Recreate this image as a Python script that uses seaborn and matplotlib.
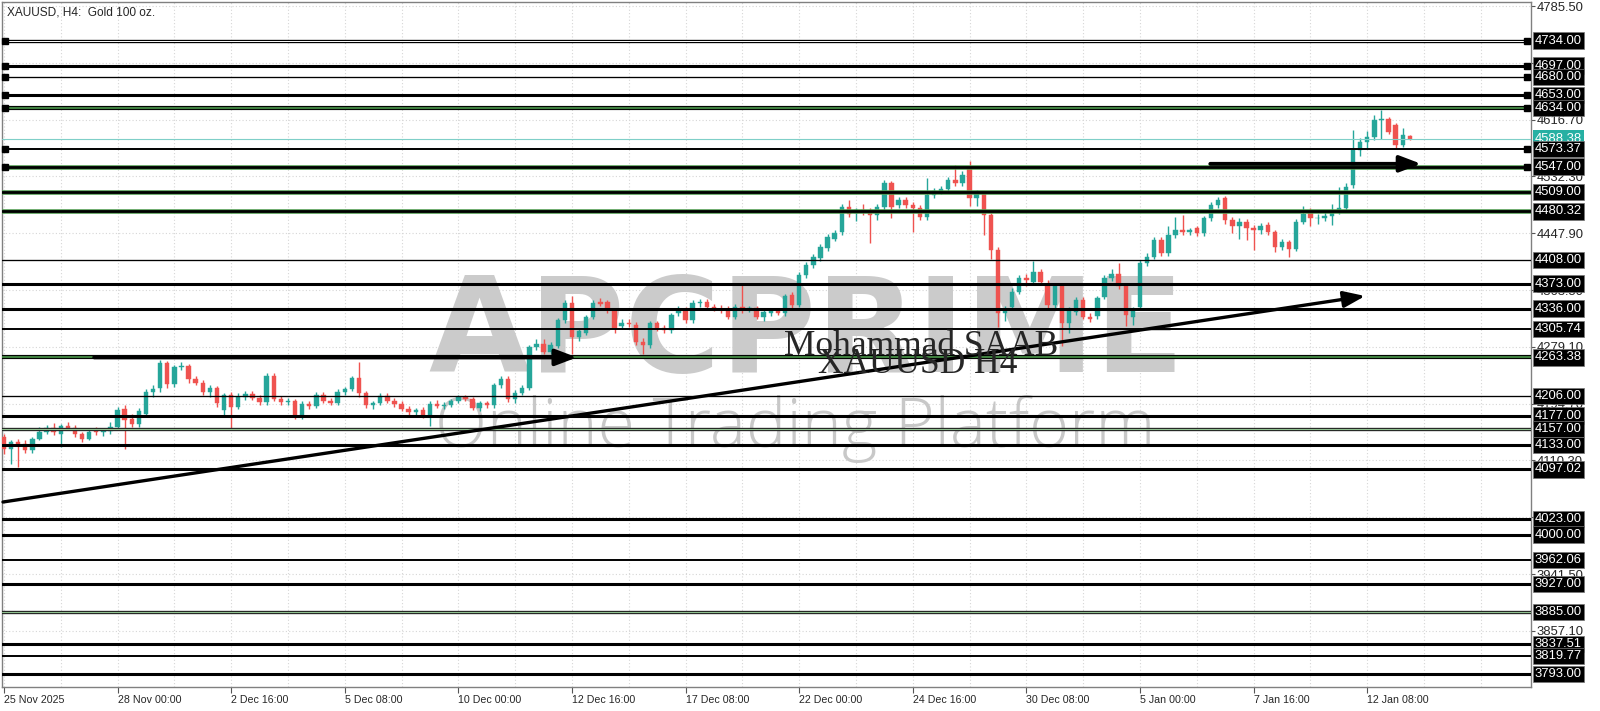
import numpy as np
import pandas as pd
import matplotlib
matplotlib.use("Agg")
import matplotlib.pyplot as plt
from matplotlib.ticker import MultipleLocator
import seaborn as sns

# XAUUSD H4 candles (25 Nov 2025 08:00 ... 12 Jan 2026)
opens = [4145, 4127, 4137, 4135, 4126, 4142, 4153, 4158, 4150, 4162, 4158, 4150, 4142, 4154, 4152, 4154,
         4160, 4186, 4172, 4164, 4180, 4212, 4218, 4255, 4224, 4249, 4250, 4231, 4226, 4212, 4218, 4185,
         4207, 4190, 4205, 4209, 4203, 4197, 4236, 4202, 4197, 4199, 4176, 4194, 4191, 4208, 4199, 4195,
         4212, 4216, 4233, 4210, 4192, 4196, 4206, 4199, 4194, 4187, 4182, 4185, 4178, 4194, 4191, 4193,
         4199, 4204, 4201, 4188, 4195, 4192, 4222, 4232, 4201, 4211, 4218, 4279, 4284, 4272, 4281, 4319,
         4344, 4294, 4300, 4324, 4346, 4345, 4334, 4310, 4314, 4312, 4287, 4282, 4314, 4307, 4304, 4329,
         4333, 4319, 4344, 4346, 4339, 4336, 4336, 4324, 4338, 4335, 4337, 4324, 4329, 4332, 4329, 4356,
         4341, 4386, 4401, 4411, 4426, 4440, 4450, 4487, 4478, 4482, 4480, 4475, 4487, 4522, 4490, 4497,
         4490, 4486, 4472, 4505, 4510, 4514, 4527, 4522, 4547, 4500, 4507, 4475, 4423, 4329, 4338, 4361,
         4381, 4376, 4391, 4373, 4341, 4369, 4314, 4331, 4349, 4324, 4325, 4353, 4381, 4388, 4369, 4324,
         4338, 4403, 4413, 4438, 4418, 4445, 4453, 4450, 4455, 4448, 4470, 4490, 4500, 4468, 4458, 4465,
         4455, 4453, 4460, 4450, 4428, 4435, 4425, 4465, 4480, 4470, 4470, 4473, 4480, 4485, 4520, 4571,
         4584, 4591, 4616, 4617, 4609, 4579, 4592]
highs = [4150, 4140, 4142, 4140, 4145, 4160, 4163, 4166, 4165, 4168, 4163, 4152, 4158, 4160, 4158, 4168,
         4190, 4192, 4180, 4188, 4216, 4222, 4260, 4258, 4252, 4256, 4253, 4236, 4230, 4222, 4221, 4210,
         4212, 4210, 4214, 4213, 4207, 4240, 4240, 4206, 4203, 4202, 4198, 4198, 4212, 4212, 4203, 4216,
         4220, 4236, 4257, 4214, 4199, 4210, 4210, 4203, 4198, 4191, 4188, 4190, 4198, 4200, 4197, 4202,
         4208, 4208, 4205, 4198, 4199, 4226, 4236, 4236, 4215, 4222, 4282, 4290, 4290, 4286, 4322, 4348,
         4354, 4306, 4327, 4348, 4352, 4349, 4337, 4320, 4320, 4316, 4292, 4318, 4318, 4312, 4330, 4340,
         4338, 4348, 4350, 4350, 4343, 4341, 4340, 4342, 4373, 4340, 4340, 4335, 4336, 4336, 4358, 4360,
         4390, 4405, 4417, 4432, 4447, 4452, 4492, 4497, 4486, 4492, 4485, 4492, 4527, 4526, 4502, 4501,
         4494, 4490, 4530, 4515, 4518, 4532, 4549, 4540, 4555, 4512, 4510, 4478, 4428, 4340, 4366, 4386,
         4388, 4406, 4395, 4378, 4373, 4373, 4338, 4353, 4353, 4330, 4355, 4386, 4395, 4403, 4373, 4338,
         4408, 4418, 4442, 4442, 4458, 4472, 4475, 4456, 4459, 4474, 4494, 4501, 4503, 4472, 4470, 4469,
         4460, 4463, 4464, 4453, 4440, 4438, 4469, 4488, 4485, 4476, 4480, 4492, 4517, 4522, 4601, 4590,
         4600, 4623, 4631, 4620, 4612, 4604, 4594]
lows = [4120, 4105, 4101, 4122, 4122, 4140, 4150, 4148, 4130, 4155, 4145, 4138, 4140, 4148, 4147, 4150,
        4155, 4127, 4160, 4160, 4176, 4205, 4212, 4218, 4220, 4244, 4225, 4222, 4207, 4205, 4190, 4178,
        4155, 4186, 4200, 4200, 4193, 4193, 4198, 4193, 4192, 4172, 4172, 4186, 4188, 4196, 4192, 4192,
        4208, 4213, 4205, 4188, 4186, 4192, 4196, 4190, 4183, 4178, 4178, 4174, 4162, 4188, 4186, 4190,
        4196, 4198, 4185, 4184, 4188, 4188, 4218, 4197, 4196, 4208, 4215, 4275, 4268, 4268, 4278, 4315,
        4268, 4288, 4296, 4320, 4340, 4330, 4300, 4305, 4309, 4282, 4268, 4278, 4303, 4300, 4300, 4325,
        4315, 4315, 4338, 4335, 4332, 4330, 4320, 4320, 4330, 4331, 4320, 4318, 4325, 4326, 4325, 4337,
        4338, 4382, 4396, 4407, 4422, 4436, 4446, 4472, 4466, 4475, 4433, 4468, 4483, 4470, 4485, 4486,
        4450, 4468, 4468, 4500, 4506, 4510, 4518, 4518, 4488, 4488, 4445, 4410, 4309, 4318, 4335, 4357,
        4370, 4372, 4372, 4336, 4337, 4280, 4300, 4327, 4320, 4316, 4321, 4350, 4377, 4365, 4310, 4312,
        4335, 4399, 4409, 4414, 4414, 4441, 4445, 4446, 4444, 4444, 4466, 4486, 4462, 4448, 4440, 4438,
        4423, 4447, 4446, 4420, 4423, 4413, 4421, 4461, 4458, 4462, 4466, 4460, 4477, 4481, 4515, 4562,
        4575, 4587, 4588, 4595, 4575, 4576, 4587]
closes = [4127, 4137, 4135, 4126, 4142, 4153, 4158, 4152, 4161, 4158, 4149, 4142, 4153, 4152, 4154, 4160,
          4185, 4170, 4164, 4183, 4212, 4217, 4255, 4224, 4249, 4250, 4231, 4226, 4212, 4218, 4195, 4207,
          4190, 4205, 4209, 4203, 4197, 4236, 4202, 4197, 4199, 4176, 4194, 4191, 4208, 4199, 4195, 4212,
          4216, 4233, 4210, 4192, 4196, 4206, 4199, 4194, 4187, 4182, 4185, 4178, 4194, 4191, 4193, 4199,
          4204, 4201, 4188, 4195, 4192, 4222, 4232, 4201, 4211, 4218, 4279, 4283, 4272, 4282, 4319, 4344,
          4294, 4302, 4324, 4344, 4343, 4334, 4307, 4314, 4313, 4287, 4282, 4314, 4307, 4304, 4326, 4336,
          4319, 4344, 4345, 4339, 4336, 4335, 4324, 4338, 4335, 4337, 4324, 4331, 4332, 4329, 4354, 4341,
          4386, 4401, 4413, 4428, 4443, 4448, 4487, 4477, 4482, 4479, 4475, 4487, 4522, 4487, 4497, 4490,
          4486, 4472, 4505, 4510, 4514, 4527, 4522, 4535, 4500, 4507, 4475, 4423, 4329, 4334, 4361, 4381,
          4378, 4391, 4376, 4341, 4369, 4314, 4334, 4349, 4324, 4321, 4351, 4381, 4388, 4369, 4326, 4334,
          4403, 4413, 4438, 4418, 4445, 4453, 4450, 4452, 4448, 4470, 4490, 4497, 4468, 4458, 4465, 4455,
          4453, 4459, 4450, 4428, 4435, 4425, 4465, 4477, 4470, 4471, 4474, 4480, 4485, 4517, 4571, 4584,
          4591, 4616, 4617, 4599, 4579, 4594, 4588]
last_price = 4588.38

date_labels = ["25 Nov 2025", "28 Nov 00:00", "2 Dec 16:00", "5 Dec 08:00", "10 Dec 00:00",
               "12 Dec 16:00", "17 Dec 08:00", "22 Dec 00:00", "24 Dec 16:00", "30 Dec 08:00",
               "5 Jan 00:00", "7 Jan 16:00", "12 Jan 08:00"]
date_label_bars = [0, 16, 32, 48, 64, 80, 96, 112, 128, 144, 160, 176, 192]
price_ticks = [4785.50, 4701.10, 4616.70, 4532.30, 4447.90, 4363.50, 4279.10, 4194.70,
               4110.30, 4025.90, 3941.50, 3857.10]

# horizontal support / resistance levels
levels = [4734.00, 4697.00, 4680.00, 4653.00, 4634.00, 4573.37, 4547.00, 4509.00, 4480.32,
          4408.00, 4373.00, 4336.00, 4305.74, 4263.38, 4206.00, 4177.00, 4157.00, 4133.00,
          4097.02, 4023.00, 4000.00, 3962.06, 3927.00, 3885.00, 3837.51, 3819.77, 3793.00]
level_kinds = ["double", "thick", "thin", "thick", "green", "mid", "greenthick", "greenthick",
               "greenthick", "thin", "thick", "thick", "mid", "green", "thin", "thick", "dgreen",
               "thick", "thick", "thick", "thick", "mid", "thick", "dgreen", "thick", "mid", "thick"]
marked_levels = [4734.00, 4697.00, 4680.00, 4653.00, 4634.00, 4573.37, 4547.00]

# drawn arrows (bar index, price)
trend_bars = [-0.14, 191.7]
trend_prices = [4048.5, 4354.6]
arrow1_bars = [12.7, 80.7]
arrow1_price = 4263.38
arrow2_bars = [169.9, 199.6]
arrow2_price = 4551.0

GREEN = "#26a69a"
RED = "#ef5350"

sns.set_theme(style="white")
plt.rcParams["font.family"] = ["Liberation Sans", "DejaVu Sans"]

fig = plt.figure(figsize=(16, 7.11), dpi=100)
ax = fig.add_axes([2 / 1600, 1 - 687 / 711, 1529 / 1600, 685 / 711])
ax.set_xlim(-0.28, 215.07)
ax.set_ylim(3773.6, 4791.5)

df = pd.DataFrame({"open": opens, "high": highs, "low": lows, "close": closes})
df["bar"] = np.arange(len(df))
up = df["close"] >= df["open"]
cols = np.where(up, GREEN, RED)
body = df["close"] - df["open"]
body = body.where(body.abs() >= 1.0, np.where(up, 1.0, -1.0))

ax.vlines(df["bar"], df["low"], df["high"], colors=cols, lw=1.0, zorder=3)
ax.bar(df["bar"], body, bottom=df["open"], width=0.62, color=cols, edgecolor=cols,
       linewidth=0.3, zorder=3)

# level lines
for p, kind in zip(levels, level_kinds):
    if kind == "thin":
        ax.axhline(p, color="black", lw=0.95, zorder=4)
    elif kind == "mid":
        ax.axhline(p, color="black", lw=1.4, zorder=4)
    elif kind == "thick":
        ax.axhline(p, color="black", lw=2.2, zorder=4)
    elif kind == "double":
        ax.axhline(p, color="black", lw=2.4, zorder=4)
        ax.axhline(p, color="white", lw=0.7, zorder=4)
    elif kind == "dgreen":
        ax.axhline(p, color="#222222", lw=2.4, zorder=4)
        ax.axhline(p, color="#8fc08f", lw=0.8, zorder=4)
    elif kind == "green":
        ax.axhline(p, color="black", lw=3.0, zorder=4)
        ax.axhline(p, color="#3f7f3f", lw=1.5, zorder=4)
    elif kind == "greenthick":
        ax.axhline(p, color="#4f9a4f", lw=3.3, zorder=4)
        ax.axhline(p, color="black", lw=2.0, zorder=4)

ytr = ax.get_yaxis_transform()
ax.plot([0.0022] * len(marked_levels), marked_levels, "s", color="black", ms=4.3,
        transform=ytr, clip_on=False, zorder=5)
ax.plot([0.9972] * len(marked_levels), marked_levels, "s", color="black", ms=4.3,
        transform=ytr, clip_on=False, zorder=5)

# current price line
ax.axhline(last_price, color="#7fcfc8", lw=0.8, zorder=3.5)

# arrows
arrow_kw = dict(arrowstyle="-|>,head_length=0.5,head_width=0.19", color="black",
                mutation_scale=26, shrinkA=0, shrinkB=0)
ax.annotate("", xy=(trend_bars[1], trend_prices[1]), xytext=(trend_bars[0], trend_prices[0]),
            arrowprops=dict(lw=2.4, **arrow_kw), zorder=6, annotation_clip=False)
ax.annotate("", xy=(arrow1_bars[1], arrow1_price), xytext=(arrow1_bars[0], arrow1_price),
            arrowprops=dict(lw=2.8, **arrow_kw), zorder=6)
ax.annotate("", xy=(arrow2_bars[1], arrow2_price), xytext=(arrow2_bars[0], arrow2_price),
            arrowprops=dict(lw=2.8, **arrow_kw), zorder=6)

# watermark
ax.text(113, 4242, "APCPRIME", fontsize=94, fontweight="bold", color="#cbcbcb",
        family=["DejaVu Sans"], ha="center", va="baseline", zorder=1)
ax.text(111.4, 4129.5, "Online Trading Platform", fontsize=49, fontweight="light",
        color="#c8c8c8", family=["Open Sans", "Lato", "DejaVu Sans"], ha="center",
        va="baseline", zorder=1)

# author text
ax.text(129.2, 4267, "Mohammad SAAB", fontsize=25.5, family=["Liberation Serif", "DejaVu Serif"],
        ha="center", va="baseline", zorder=7)
ax.text(128.7, 4240, "XAUUSD H4", fontsize=25.5, family=["Liberation Serif", "DejaVu Serif"],
        ha="center", va="baseline", zorder=7)

ax.text(0.0033, 0.9854, "XAUUSD, H4:  Gold 100 oz.", transform=ax.transAxes, fontsize=8.6,
        ha="left", va="center", zorder=8)

# axes styling
ax.yaxis.tick_right()
ax.set_yticks(price_ticks)
ax.set_yticklabels([f"{t:.2f}" for t in price_ticks])
ax.set_xticks(date_label_bars)
ax.set_xticklabels(date_labels, ha="left", fontsize=7.7)
ax.xaxis.set_minor_locator(MultipleLocator(8))
ax.tick_params(axis="y", which="both", right=True, left=False, length=3, width=0.8,
               color="#555555", labelsize=9.4, pad=1)
ax.tick_params(axis="x", which="major", bottom=True, length=4, width=0.8, color="#555555", pad=2)
ax.tick_params(axis="x", which="minor", bottom=False)
ax.grid(True, which="both", axis="x", color="#d6d6d6", ls=(0, (1, 2)), lw=0.8, zorder=0)
ax.grid(True, which="major", axis="y", color="#d6d6d6", ls=(0, (1, 2)), lw=0.8, zorder=0)
ax.set_axisbelow(True)
for s in ax.spines.values():
    s.set_color("#808080")
    s.set_linewidth(1.0)

# price labels on the right axis
ax.text(1.0026, last_price, f"{last_price:.2f}", transform=ytr, ha="left", va="center",
        color="white", fontsize=9.4, clip_on=False, zorder=5.5,
        bbox=dict(boxstyle="square,pad=0.17", fc="#26b0a3", ec="none"))
for p in levels:
    ax.text(1.0026, p, f"{p:.2f}", transform=ytr, ha="left", va="center", color="white",
            fontsize=9.4, clip_on=False, zorder=6,
            bbox=dict(boxstyle="square,pad=0.17", fc="black", ec="#777777", lw=0.5))

fig.savefig("out.png", dpi=100)
